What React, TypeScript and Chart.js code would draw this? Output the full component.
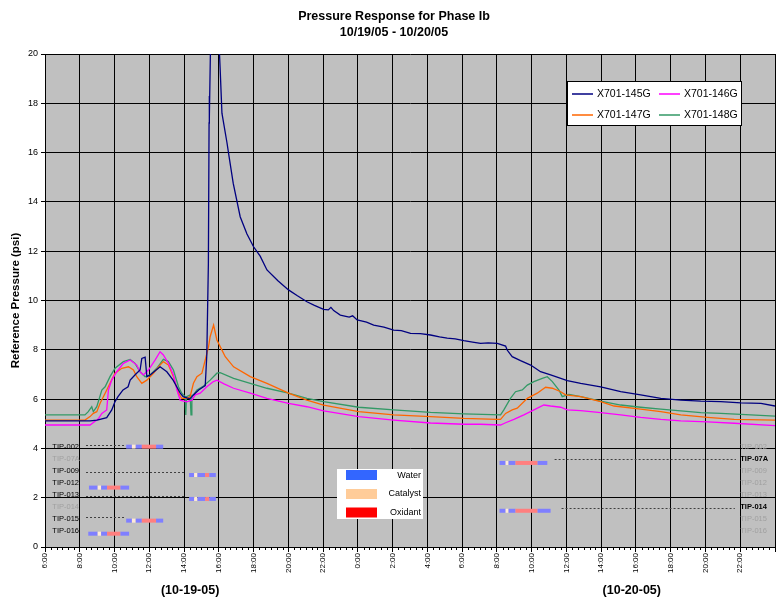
import React, { useEffect, useRef } from 'react';
import { Chart, registerables } from 'chart.js';

Chart.register(...registerables);

const FONT = "'Liberation Sans', Arial, sans-serif";

// ---------- series (time in hours from 10/19/05 0:00) ----------
const seriesNames = ['X701-145G', 'X701-146G', 'X701-147G', 'X701-148G'];
const seriesColors = ['#000080', '#FF00FF', '#FF6600', '#339966'];

const t145 = [6.0, 8.59, 9.0, 9.55, 9.84, 10.03, 10.2, 10.49, 10.78, 10.9, 11.2, 11.47, 11.57, 11.76, 11.86, 12.05, 12.62, 13.01, 13.37, 13.78, 13.95, 14.2, 14.35, 14.54, 14.84, 15.12, 15.22, 15.31, 15.40, 15.44, 15.45, 15.46, 15.55, 15.8, 16.04, 16.08, 16.18, 16.47, 16.60, 16.83, 17.23, 17.62, 18.0, 18.38, 18.77, 19.4, 20.01, 20.5, 21.07, 21.5, 22.03, 22.3, 22.45, 22.61, 22.99, 23.5, 23.7, 23.96, 24.5, 24.91, 25.5, 26.06, 26.5, 27.03, 27.6, 28.18, 28.7, 29.14, 29.6, 30.10, 30.6, 31.06, 31.5, 32.02, 32.50, 32.59, 32.88, 33.36, 33.94, 34.51, 35.09, 36.05, 36.82, 37.97, 39.12, 40.27, 41.43, 42.58, 43.73, 44.88, 46.04, 47.19, 48.0];
const v145 = [5.12, 5.12, 5.15, 5.25, 5.56, 5.9, 6.1, 6.37, 6.5, 6.77, 7.0, 7.18, 7.65, 7.7, 6.91, 6.98, 7.31, 7.11, 6.77, 6.24, 6.1, 6.04, 6.02, 6.17, 6.37, 6.5, 6.55, 7.8, 11.5, 17.2, 18.3, 17.4, 21.5, 23, 20.0, 19.35, 17.6, 16.4, 15.8, 14.75, 13.4, 12.7, 12.18, 11.8, 11.24, 10.8, 10.43, 10.2, 9.95, 9.8, 9.64, 9.62, 9.72, 9.59, 9.41, 9.33, 9.38, 9.21, 9.12, 9.0, 8.92, 8.8, 8.78, 8.67, 8.66, 8.6, 8.52, 8.47, 8.44, 8.37, 8.31, 8.26, 8.28, 8.26, 8.15, 7.99, 7.72, 7.56, 7.38, 7.11, 6.98, 6.75, 6.64, 6.5, 6.3, 6.17, 6.03, 5.96, 5.92, 5.9, 5.85, 5.83, 5.72];

const t146 = [6.0, 8.59, 9.07, 9.27, 9.55, 9.65, 9.84, 10.13, 10.51, 10.90, 11.28, 11.47, 11.66, 11.95, 12.34, 12.62, 12.81, 13.10, 13.39, 13.59, 13.78, 14.16, 14.45, 14.64, 14.93, 15.31, 15.69, 15.9, 16.3, 16.85, 17.81, 18.77, 20.01, 21.07, 22.03, 24.05, 26.06, 28.18, 30.10, 31.06, 32.21, 32.50, 32.98, 33.55, 34.13, 34.70, 35.09, 35.67, 36.05, 36.82, 37.97, 39.12, 40.27, 41.43, 42.58, 44.12, 45.65, 48.0];
const v146 = [4.95, 4.95, 5.2, 5.42, 5.56, 6.37, 6.77, 7.11, 7.45, 7.59, 7.38, 7.11, 6.98, 7.18, 7.59, 7.92, 7.79, 7.45, 6.98, 6.37, 5.96, 5.89, 5.96, 6.17, 6.24, 6.5, 6.71, 6.77, 6.62, 6.44, 6.24, 6.03, 5.83, 5.69, 5.52, 5.29, 5.15, 5.03, 4.98, 4.98, 4.95, 5.04, 5.18, 5.36, 5.56, 5.76, 5.72, 5.67, 5.56, 5.53, 5.45, 5.36, 5.26, 5.18, 5.12, 5.08, 5.02, 4.92];

const t147 = [6.0, 8.30, 8.59, 8.78, 8.98, 9.17, 9.46, 9.74, 10.03, 10.42, 10.80, 11.09, 11.28, 11.57, 11.86, 12.24, 12.62, 12.81, 13.10, 13.39, 13.68, 13.87, 14.16, 14.35, 14.54, 14.74, 15.03, 15.22, 15.41, 15.50, 15.70, 15.89, 16.08, 16.37, 16.85, 17.81, 18.77, 20.01, 21.07, 22.03, 24.05, 26.06, 28.18, 30.10, 32.02, 32.21, 32.50, 32.88, 33.17, 33.75, 34.32, 34.80, 35.19, 35.67, 35.95, 36.82, 37.97, 38.74, 40.27, 41.43, 42.58, 44.12, 45.65, 48.0];
const v147 = [5.15, 5.15, 5.29, 5.42, 5.49, 5.83, 6.24, 6.64, 7.05, 7.25, 7.31, 7.18, 6.91, 6.64, 6.77, 7.05, 7.38, 7.52, 7.38, 6.91, 6.24, 6.03, 6.03, 6.1, 6.64, 6.91, 7.05, 7.59, 8.13, 8.53, 9.0, 8.4, 8.13, 7.72, 7.31, 6.91, 6.64, 6.24, 5.96, 5.76, 5.49, 5.36, 5.29, 5.22, 5.18, 5.18, 5.42, 5.56, 5.63, 6.03, 6.24, 6.48, 6.44, 6.3, 6.17, 6.1, 5.9, 5.72, 5.59, 5.49, 5.36, 5.26, 5.18, 5.15];

const t148 = [6.0, 8.30, 8.49, 8.69, 8.78, 8.98, 9.27, 9.46, 9.74, 10.03, 10.51, 10.90, 11.18, 11.47, 11.76, 12.05, 12.43, 12.81, 13.10, 13.39, 13.68, 13.87, 14.06, 14.10, 14.14, 14.35, 14.40, 14.45, 14.54, 14.74, 15.12, 15.50, 15.89, 16.08, 16.85, 17.81, 18.77, 20.01, 21.07, 22.03, 24.05, 26.06, 28.18, 30.10, 32.21, 32.40, 32.78, 33.07, 33.46, 33.75, 34.13, 34.61, 34.90, 35.19, 35.57, 35.76, 36.14, 36.82, 37.97, 39.12, 40.27, 41.43, 42.58, 43.73, 44.88, 46.04, 48.0];
const v148 = [5.36, 5.36, 5.49, 5.69, 5.49, 5.69, 6.37, 6.5, 6.91, 7.25, 7.52, 7.61, 7.45, 7.11, 6.91, 6.98, 7.25, 7.61, 7.52, 7.18, 6.5, 6.24, 6.1, 5.36, 6.1, 6.17, 5.36, 6.15, 6.17, 6.37, 6.53, 6.77, 7.05, 7.07, 6.84, 6.64, 6.44, 6.24, 6.03, 5.9, 5.67, 5.56, 5.46, 5.4, 5.36, 5.56, 6.03, 6.3, 6.37, 6.57, 6.71, 6.84, 6.91, 6.71, 6.37, 6.1, 6.19, 6.1, 5.92, 5.76, 5.67, 5.59, 5.52, 5.45, 5.42, 5.38, 5.31];

const seriesTimes = [t145, t146, t147, t148];
const seriesValues = [v145, v146, v147, v148];

// ---------- axes / text ----------
const chartTitle = ['Pressure Response for Phase Ib', '10/19/05 - 10/20/05'];
const yAxisTitle = 'Reference Pressure (psi)';
const xMin = 6;
const xMax = 48;
const xStep = 2;
const xMinorPerHour = 3;
const yMin = 0;
const yMax = 20;
const yStep = 2;
const dateLabels = ['(10-19-05)', '(10-20-05)'];
const dateLabelHours = [14.35, 39.76];

// ---------- TIP annotations ----------
const tipNames = ['TIP-002', 'TIP-07A', 'TIP-009', 'TIP-012', 'TIP-013', 'TIP-014', 'TIP-015', 'TIP-016'];
const tipRowLevels = [4.05, 3.56, 3.08, 2.59, 2.10, 1.62, 1.13, 0.64];
const tipLeftActive = [true, false, true, true, true, false, true, true];
const tipRightActive = [false, true, false, false, false, true, false, false];
const tipLabelHours = [6.42, 46.0];

const injectionTypes = ['Water', 'Catalyst', 'Oxidant'];
const injectionColors = ['#3366FF', '#FFCC99', '#FF0000'];
const injectionBarColors = ['#7F7FFF', '#FFEAD6', '#FF7F7F'];

const barTips = ['TIP-002', 'TIP-009', 'TIP-012', 'TIP-013', 'TIP-015', 'TIP-016', 'TIP-07A', 'TIP-014'];
const barLevels = [4.07, 2.92, 2.41, 1.95, 1.07, 0.54, 3.41, 1.47];
const barEdgeHours = [
  [10.67, 11.0, 11.22, 11.57, 12.39, 12.8],
  [14.29, 14.58, 14.77, 15.21, 15.45, 15.83],
  [8.53, 9.03, 9.23, 9.57, 10.34, 10.84],
  [14.29, 14.58, 14.77, 15.21, 15.45, 15.83],
  [10.67, 11.0, 11.22, 11.57, 12.39, 12.8],
  [8.49, 9.03, 9.23, 9.57, 10.34, 10.84],
  [32.15, 32.5, 32.67, 33.07, 34.34, 34.9],
  [32.15, 32.5, 32.67, 33.07, 34.34, 35.09],
];
const barSegmentTypes = [0, 1, 0, 2, 0];

const leaderTips = ['TIP-002', 'TIP-009', 'TIP-013', 'TIP-015', 'TIP-07A', 'TIP-014'];
const leaderLevels = [4.14, 3.04, 2.08, 1.23, 3.56, 1.58];
const leaderStart = [8.36, 8.36, 8.36, 8.36, 35.32, 35.72];
const leaderEnd = [10.6, 14.0, 14.0, 10.6, 45.75, 45.69];

const decorPlugin = {
  id: 'decor',
  beforeDraw(chart: any) {
    const { ctx, chartArea: a } = chart;
    ctx.save();
    ctx.fillStyle = '#C0C0C0';
    ctx.fillRect(a.left, a.top, a.right - a.left, a.bottom - a.top);
    ctx.restore();
  },
  afterDatasetsDraw(chart: any) {
    const { ctx } = chart;
    const xs = chart.scales.x;
    const ys = chart.scales.y;
    ctx.save();
    ctx.strokeStyle = '#404040';
    ctx.lineWidth = 1;
    ctx.setLineDash([2, 2]);
    leaderTips.forEach((_, i) => {
      const y = Math.round(ys.getPixelForValue(leaderLevels[i])) + 0.5;
      ctx.beginPath();
      ctx.moveTo(xs.getPixelForValue(leaderStart[i]), y);
      ctx.lineTo(xs.getPixelForValue(leaderEnd[i]), y);
      ctx.stroke();
    });
    ctx.setLineDash([]);
    barTips.forEach((_, i) => {
      const yc = ys.getPixelForValue(barLevels[i]);
      const edges = barEdgeHours[i];
      for (let s = 0; s < barSegmentTypes.length; s++) {
        const x0 = xs.getPixelForValue(edges[s]);
        const x1 = xs.getPixelForValue(edges[s + 1]);
        ctx.fillStyle = injectionBarColors[barSegmentTypes[s]];
        ctx.fillRect(x0, yc - 2, x1 - x0, 4);
      }
    });
    ctx.textBaseline = 'middle';
    ctx.textAlign = 'left';
    tipNames.forEach((name, i) => {
      const y = ys.getPixelForValue(tipRowLevels[i]);
      ctx.font = `7.5px ${FONT}`;
      ctx.fillStyle = tipLeftActive[i] ? '#000000' : '#A0A0A0';
      ctx.fillText(name, xs.getPixelForValue(tipLabelHours[0]), y);
      ctx.font = tipRightActive[i] ? `bold 7.5px ${FONT}` : `7.5px ${FONT}`;
      ctx.fillStyle = tipRightActive[i] ? '#000000' : '#A0A0A0';
      ctx.fillText(name, xs.getPixelForValue(tipLabelHours[1]), y);
    });
    ctx.restore();
  },
  afterDraw(chart: any) {
    const { ctx, chartArea: a } = chart;
    const xs = chart.scales.x;
    ctx.save();
    ctx.strokeStyle = '#000';
    ctx.lineWidth = 1;
    for (let k = 0; k <= (xMax - xMin) * xMinorPerHour; k++) {
      if (k % (xStep * xMinorPerHour) === 0) continue;
      const x = Math.round(xs.getPixelForValue(xMin + k / xMinorPerHour)) + 0.5;
      ctx.beginPath();
      ctx.moveTo(x, a.bottom);
      ctx.lineTo(x, a.bottom + 3);
      ctx.stroke();
    }
    ctx.fillStyle = '#000';
    ctx.textAlign = 'center';
    ctx.textBaseline = 'middle';
    ctx.font = `bold 12.5px ${FONT}`;
    ctx.fillText(chartTitle[0], 394, 17);
    ctx.fillText(chartTitle[1], 394, 33);
    ctx.font = `bold 12.5px ${FONT}`;
    dateLabels.forEach((d, i) => ctx.fillText(d, xs.getPixelForValue(dateLabelHours[i]), 591));
    ctx.save();
    ctx.translate(16, (a.top + a.bottom) / 2);
    ctx.rotate(-Math.PI / 2);
    ctx.font = `bold 11.5px ${FONT}`;
    ctx.fillText(yAxisTitle, 0, 0);
    ctx.restore();
    const lx = 567, ly = 81, lw = 175, lh = 45;
    ctx.fillStyle = '#FFFFFF';
    ctx.fillRect(lx, ly, lw, lh);
    ctx.strokeStyle = '#000';
    ctx.strokeRect(lx + 0.5, ly + 0.5, lw - 1, lh - 1);
    const cols = [572, 659];
    const rows = [94, 115];
    ctx.textAlign = 'left';
    ctx.font = `10.5px ${FONT}`;
    chart.data.datasets.forEach((ds: any, i: number) => {
      const cx = cols[i % 2];
      const cy = rows[Math.floor(i / 2)];
      ctx.strokeStyle = ds.borderColor;
      ctx.lineWidth = 1.5;
      ctx.beginPath();
      ctx.moveTo(cx, cy);
      ctx.lineTo(cx + 21, cy);
      ctx.stroke();
      ctx.fillStyle = '#000';
      ctx.fillText(ds.label, cx + 25, cy + 0.5);
    });
    const bx = 337, by = 469, bw = 86, bh = 50;
    ctx.fillStyle = '#FFFFFF';
    ctx.fillRect(bx, by, bw, bh);
    const swY = [470, 489, 507.5];
    const txY = [475.5, 494, 512.5];
    ctx.font = `9px ${FONT}`;
    ctx.textAlign = 'right';
    injectionTypes.forEach((name, i) => {
      ctx.fillStyle = injectionColors[i];
      ctx.fillRect(346, swY[i], 31, 10);
      ctx.fillStyle = '#000';
      ctx.fillText(name, 421, txY[i]);
    });
    ctx.restore();
  },
};

export default function App() {
  const ref = useRef<HTMLCanvasElement>(null);
  useEffect(() => {
    if (!ref.current) return;
    const datasets = seriesNames.map((name, i) => ({
      label: name,
      data: seriesTimes[i].map((t, j) => ({ x: t, y: seriesValues[i][j] })),
      borderColor: seriesColors[i],
      backgroundColor: seriesColors[i],
      borderWidth: 1.3,
      pointRadius: 0,
      tension: 0,
      fill: false,
    }));
    const chart = new Chart(ref.current, {
      type: 'line',
      data: { datasets },
      plugins: [decorPlugin],
      options: {
        animation: false,
        responsive: false,
        devicePixelRatio: 1,
        layout: { padding: { top: 54, right: 1, left: 0, bottom: 0 } },
        plugins: { legend: { display: false }, title: { display: false }, tooltip: { enabled: false } },
        scales: {
          x: {
            type: 'linear',
            min: xMin,
            max: xMax,
            ticks: {
              stepSize: xStep,
              autoSkip: false,
              maxRotation: 90,
              minRotation: 90,
              padding: 1,
              color: '#000',
              font: { family: FONT, size: 8 },
              callback: (v: any) => (Number(v) >= xMax ? '' : `${Number(v) % 24}:00`),
            },
            grid: { color: '#000', lineWidth: 1, tickLength: 5, tickColor: '#000' },
            border: { color: '#000', width: 1 },
            afterFit: (s: any) => { s.height = 53; s.paddingLeft = 0; s.paddingRight = 0; },
          },
          y: {
            min: yMin,
            max: yMax,
            ticks: { stepSize: yStep, padding: 3, color: '#000', font: { family: FONT, size: 9 } },
            grid: { color: '#000', lineWidth: 1, tickLength: 4, tickColor: '#000' },
            border: { color: '#000', width: 1 },
            afterFit: (s: any) => { s.width = 45; s.paddingTop = 0; s.paddingBottom = 0; },
          },
        },
      },
    } as any);
    return () => chart.destroy();
  }, []);
  return (
    <div style={{ position: 'absolute', left: 0, top: 0, width: 776, height: 600, background: '#fff' }}>
      <canvas ref={ref} width={776} height={600} style={{ display: 'block' }} />
    </div>
  );
}
